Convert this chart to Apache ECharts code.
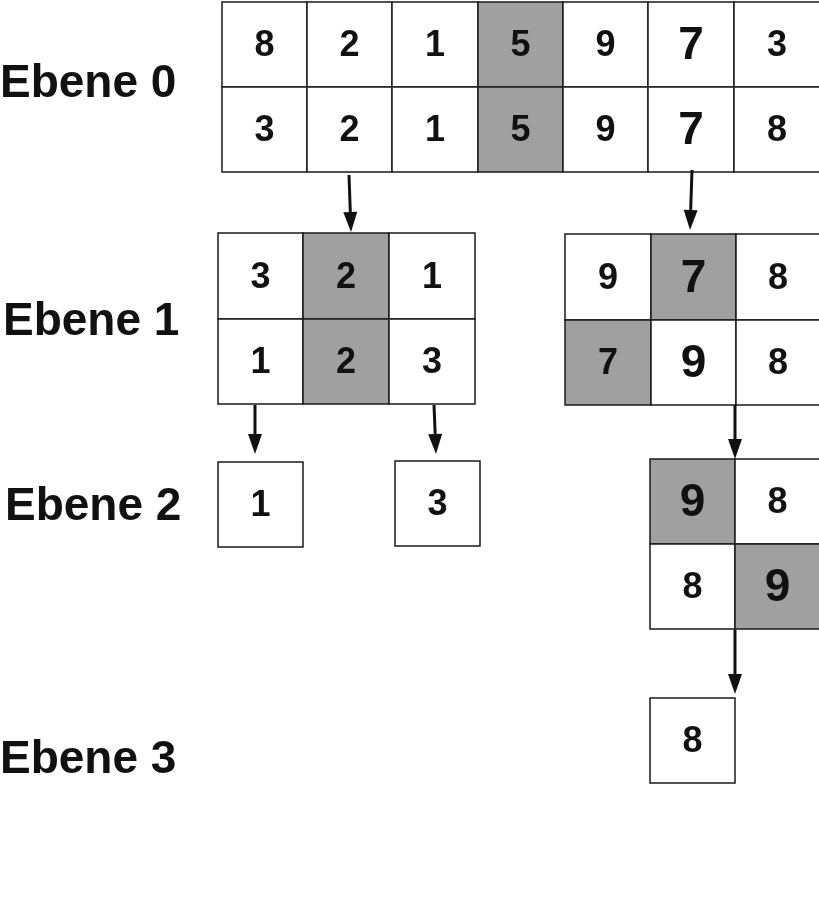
<!DOCTYPE html>
<html>
<head>
<meta charset="utf-8">
<script src="https://cdn.jsdelivr.net/npm/echarts@6/dist/echarts.min.js"></script>
<style>html,body{margin:0;padding:0;background:#fff}#chart{width:819px;height:900px}</style>
</head>
<body>
<div id="chart"></div>
<script>
// cells: [left, top, width, height, digit, shaded, big]
var level0Cells = [
  [222, 2, 85, 85, 8, 0, 0], [307, 2, 85, 85, 2, 0, 0], [392, 2, 86, 85, 1, 0, 0], [478, 2, 85, 85, 5, 1, 0],
  [563, 2, 85, 85, 9, 0, 0], [648, 2, 86, 85, 7, 0, 1], [734, 2, 86, 85, 3, 0, 0],
  [222, 87, 85, 85, 3, 0, 0], [307, 87, 85, 85, 2, 0, 0], [392, 87, 86, 85, 1, 0, 0], [478, 87, 85, 85, 5, 1, 0],
  [563, 87, 85, 85, 9, 0, 0], [648, 87, 86, 85, 7, 0, 1], [734, 87, 86, 85, 8, 0, 0]
];
var level1Cells = [
  [218, 233, 85, 86, 3, 0, 0], [303, 233, 86, 86, 2, 1, 0], [389, 233, 86, 86, 1, 0, 0],
  [218, 319, 85, 85, 1, 0, 0], [303, 319, 86, 85, 2, 1, 0], [389, 319, 86, 85, 3, 0, 0],
  [565, 234, 86, 86, 9, 0, 0], [651, 234, 85, 86, 7, 1, 1], [736, 234, 84, 86, 8, 0, 0],
  [565, 320, 86, 85, 7, 1, 0], [651, 320, 85, 85, 9, 0, 1], [736, 320, 84, 85, 8, 0, 0]
];
var level2Cells = [
  [218, 462, 85, 85, 1, 0, 0], [395, 461, 85, 85, 3, 0, 0],
  [650, 459, 85, 85, 9, 1, 1], [735, 459, 85, 85, 8, 0, 0],
  [650, 544, 85, 85, 8, 0, 0], [735, 544, 85, 85, 9, 1, 1]
];
var level3Cells = [[650, 698, 85, 85, 8, 0, 0]];
// arrows: [x1, y1, x2, y2]
var arrows = [
  [349, 175, 351, 232], [692, 170, 690, 230], [255, 405, 255, 454],
  [434, 405, 436, 454], [735, 405, 735, 459], [735, 630, 735, 694]
];
// level labels: [x, y, text]
var levelLabels = [[0, 84, 'Ebene 0'], [3, 322, 'Ebene 1'], [5, 507, 'Ebene 2'], [0, 760, 'Ebene 3']];

var allCells = level0Cells.concat(level1Cells, level2Cells, level3Cells);
var chart = echarts.init(document.getElementById('chart'));
var font = '"Liberation Sans", Arial, sans-serif';

chart.setOption({
  animation: false,
  grid: {left: 0, right: 0, top: 0, bottom: 0},
  xAxis: {type: 'value', min: 0, max: 819, show: false},
  yAxis: {type: 'value', min: 0, max: 900, inverse: true, show: false},
  series: [
    {
      type: 'custom',
      data: allCells,
      clip: true,
      renderItem: function (params, api) {
        var p0 = api.coord([api.value(0), api.value(1)]);
        var p1 = api.coord([api.value(0) + api.value(2), api.value(1) + api.value(3)]);
        var big = api.value(6);
        return {
          type: 'group',
          children: [
            {type: 'rect', shape: {x: p0[0], y: p0[1], width: p1[0] - p0[0], height: p1[1] - p0[1]},
             style: {fill: api.value(5) ? '#a0a0a0' : '#fff', stroke: '#1a1a1a', lineWidth: 1.5}},
            {type: 'text', x: (p0[0] + p1[0]) / 2, y: (p0[1] + p1[1]) / 2 + 2,
             style: {text: String(api.value(4)), font: 'bold ' + (big ? 46 : 36) + 'px ' + font,
                     fill: '#111', align: 'center', verticalAlign: 'middle'}}
          ]
        };
      }
    },
    {
      type: 'custom',
      data: arrows,
      renderItem: function (params, api) {
        var a = api.coord([api.value(0), api.value(1)]);
        var b = api.coord([api.value(2), api.value(3)]);
        var dx = b[0] - a[0], dy = b[1] - a[1], len = Math.sqrt(dx * dx + dy * dy);
        var ux = dx / len, uy = dy / len, h = 20, w = 7;
        var bx = b[0] - ux * h, by = b[1] - uy * h;
        return {
          type: 'group',
          children: [
            {type: 'line', shape: {x1: a[0], y1: a[1], x2: bx, y2: by}, style: {stroke: '#111', lineWidth: 3}},
            {type: 'polygon', shape: {points: [[b[0], b[1]], [bx - uy * w, by + ux * w], [bx + uy * w, by - ux * w]]},
             style: {fill: '#111'}}
          ]
        };
      }
    },
    {
      type: 'custom',
      data: levelLabels,
      renderItem: function (params, api) {
        var p = api.coord([api.value(0), api.value(1)]);
        return {type: 'text', x: p[0], y: p[1],
                style: {text: api.value(2), font: 'bold 46px ' + font, fill: '#111', align: 'left', verticalAlign: 'middle'}};
      }
    }
  ]
});
</script>
</body>
</html>
